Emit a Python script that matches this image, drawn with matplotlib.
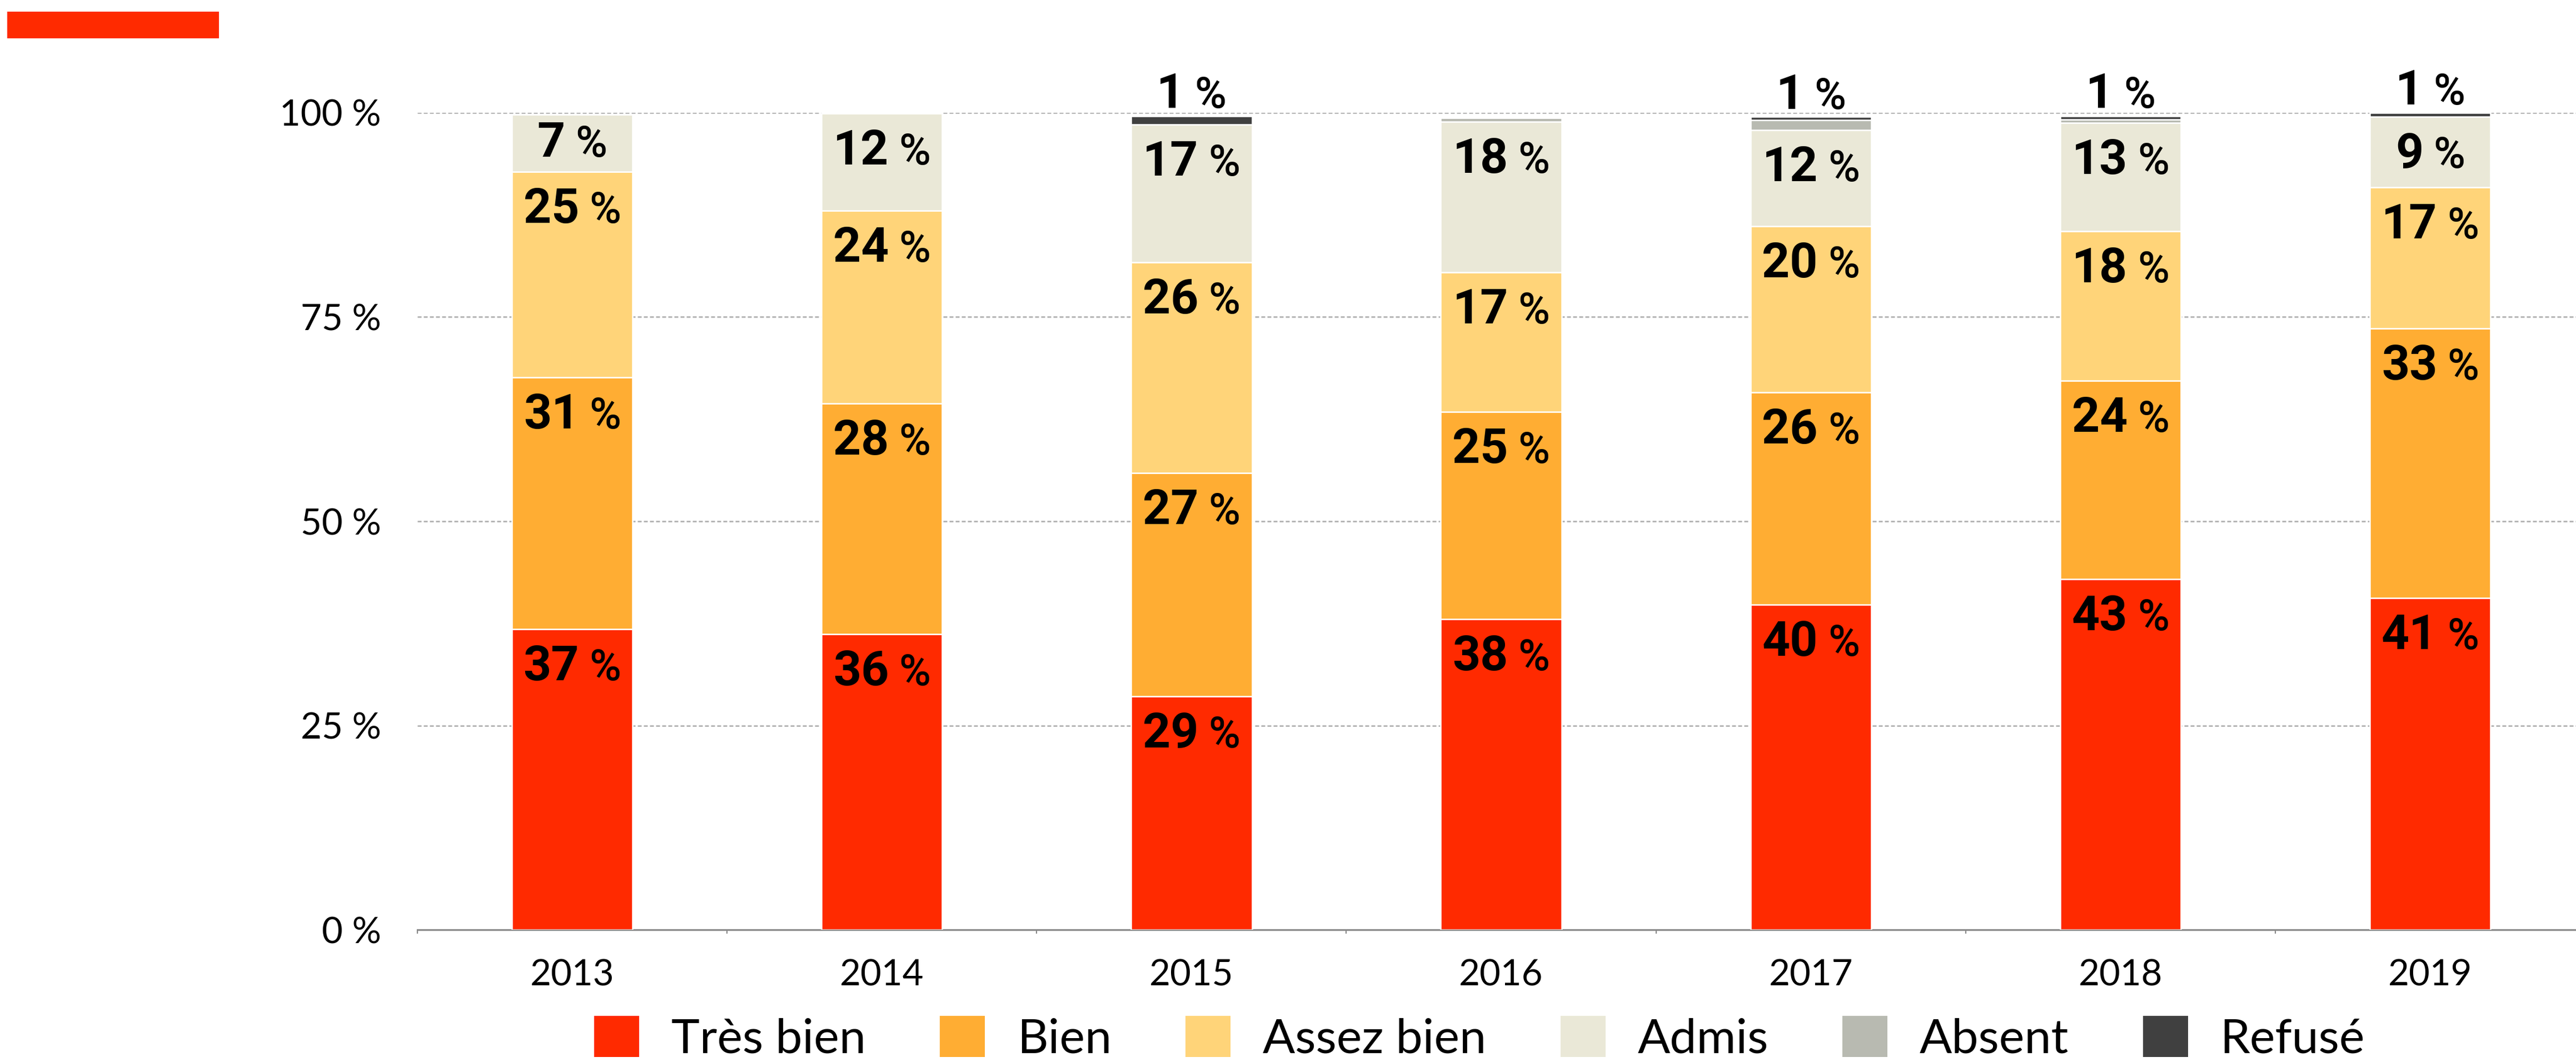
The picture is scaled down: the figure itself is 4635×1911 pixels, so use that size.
import matplotlib
matplotlib.use('Agg')
import matplotlib.pyplot as plt
from matplotlib.patches import Patch, Rectangle
from matplotlib import font_manager
import numpy as np

# data (share of candidates per mention, in %)
years = ['2013', '2014', '2015', '2016', '2017', '2018', '2019']
tres_bien = [36.8, 36.2, 28.6, 38.0, 39.8, 42.9, 40.6]
bien = [30.8, 28.2, 27.3, 25.4, 26.0, 24.3, 33.0]
assez_bien = [25.2, 23.6, 25.8, 17.1, 20.3, 18.3, 17.3]
admis = [7.0, 11.9, 16.9, 18.4, 11.8, 13.3, 8.6]
absent = [0, 0, 0, 0.5, 1.2, 0.4, 0]
refuse = [0, 0, 1.0, 0, 0.4, 0.4, 0.5]
top_labels = [None, None, 1, None, 1, 1, 1]

categories = ['Très bien', 'Bien', 'Assez bien', 'Admis', 'Absent', 'Refusé']
colors = ['#FF2A00', '#FFAD33', '#FFD479', '#EAE8D7', '#B8BAB1', '#404040']

installed = {f.name for f in font_manager.fontManager.ttflist}
num_font = 'Liberation Sans Narrow' if 'Liberation Sans Narrow' in installed else 'Roboto'
txt_font = 'Lato'

fig = plt.figure(figsize=(46.35, 19.11), dpi=100)
ax = fig.add_axes([0.162, 0.1245, 0.8415, 0.7693])
renderer = fig.canvas.get_renderer()


def add_label(xc, yb, value):
    t1 = ax.annotate(str(value), xy=(xc, yb), xytext=(0, 0), textcoords='offset points',
                     ha='left', va='baseline', fontsize=63, fontweight='bold',
                     family=num_font, zorder=6, annotation_clip=False)
    t2 = ax.annotate('%', xy=(xc, yb), xytext=(0, 0), textcoords='offset points',
                     ha='left', va='baseline', fontsize=56, fontweight='medium',
                     family=num_font, zorder=6, annotation_clip=False)
    w1 = t1.get_window_extent(renderer).width
    w2 = t2.get_window_extent(renderer).width
    gap = 18
    total = w1 + gap + w2
    k = 72 / fig.dpi
    t1.xyann = (-total / 2 * k, 0)
    t2.xyann = ((-total / 2 + w1 + gap) * k, 0)


x = np.arange(len(years))
bottom = np.zeros(len(years))
series = [tres_bien, bien, assez_bien, admis, absent, refuse]
for vals, col in zip(series, colors):
    vals = np.array(vals, dtype=float)
    ax.bar(x, vals, bottom=bottom, width=0.39, color=col, edgecolor='white',
           linewidth=1.8, zorder=3)
    for i, v in enumerate(vals):
        if v >= 2:
            top = bottom[i] + v
            add_label(x[i], top - min(6.26, 0.74 * v), int(round(v)))
    bottom += vals

# small values shown above the bar
for i, lab in enumerate(top_labels):
    if lab is not None:
        add_label(x[i], bottom[i] + 1.0, lab)

ax.set_xlim(-0.5, 6.5)
ax.set_ylim(0, 100)

ax.set_yticks([0, 25, 50, 75, 100])
ax.set_yticklabels([f'{v} %' for v in [0, 25, 50, 75, 100]])
ax.tick_params(axis='y', length=0, pad=47, labelsize=47, labelcolor='black')
ax.yaxis.grid(True, color='#AAAAAA', linestyle=(0, (2.8, 1.6)), linewidth=1.8)
ax.set_axisbelow(True)

ax.set_xticks(x)
ax.set_xticklabels(years)
ax.set_xticks(np.arange(-0.5, 7, 1), minor=True)
ax.tick_params(axis='x', which='major', length=0, pad=38, labelsize=47, labelcolor='black')
ax.tick_params(axis='x', which='minor', length=5, width=1.5, color='#888888')

for lab in ax.get_xticklabels() + ax.get_yticklabels():
    lab.set_family(txt_font)
    lab.set_fontweight('normal')

for s in ['top', 'left', 'right']:
    ax.spines[s].set_visible(False)
ax.spines['bottom'].set_color('#888888')
ax.spines['bottom'].set_linewidth(2.2)

# red header mark
fig.add_artist(Rectangle((0.0028, 0.9639), 0.0822, 0.0251, transform=fig.transFigure,
                         facecolor='#FF2A00', edgecolor='none'))

handles = [Patch(facecolor=c, edgecolor='none') for c in colors]
fig.legend(handles, categories, loc='center', bbox_to_anchor=(0.5743, 0.022), ncol=6,
           frameon=False, prop={'family': txt_font, 'size': 62, 'weight': 'normal'},
           handlelength=0.94, handleheight=0.95, handletextpad=0.67, columnspacing=1.55)

fig.savefig('out.png', dpi=100)
